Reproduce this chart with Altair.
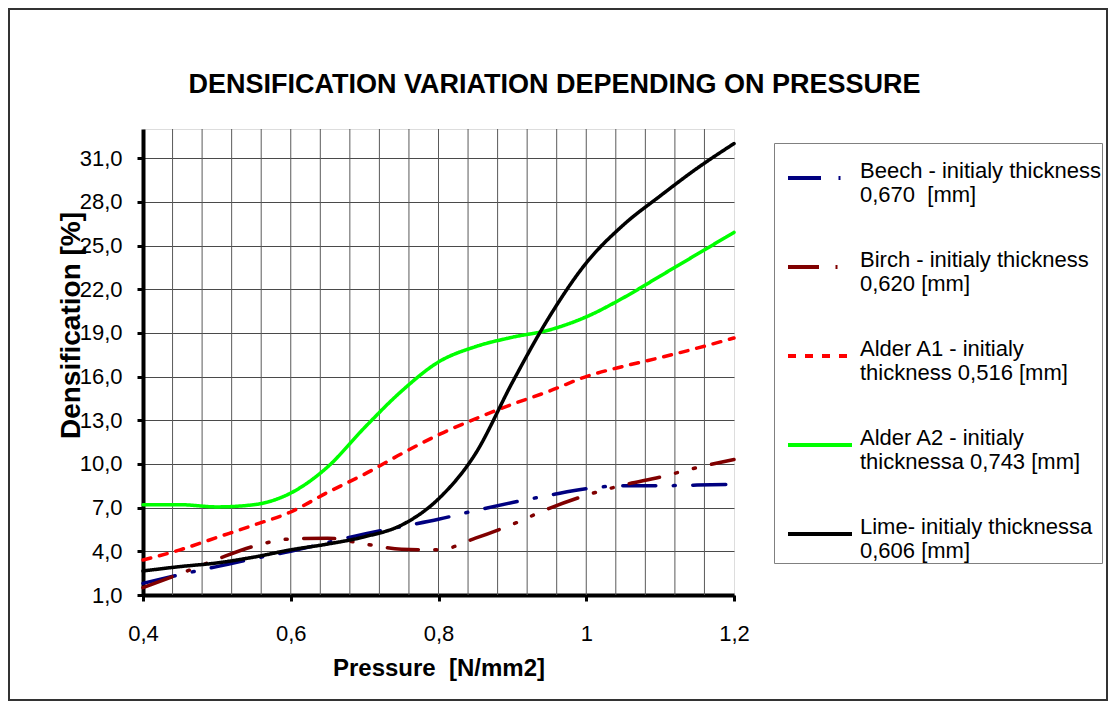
import altair as alt
import pandas as pd

FONT = "Liberation Sans"

# ---------------- data ----------------
pressure = [0.40, 0.45, 0.50, 0.55, 0.60, 0.65, 0.70, 0.75, 0.80,
            0.85, 0.90, 0.95, 1.00, 1.05, 1.10, 1.15, 1.20]
beech    = [1.8, 2.4, 2.95, 3.5, 4.0, 4.6, 5.2, 5.7, 6.2,
            6.8, 7.35, 7.85, 8.3, 8.5, 8.5, 8.55, 8.6]
birch    = [1.5, 2.45, 3.45, 4.35, 4.85, 4.9, 4.5, 4.15, 4.1,
            4.9, 5.85, 6.95, 7.85, 8.55, 9.1, 9.75, 10.3]
alder_a1 = [3.4, 4.1, 4.95, 5.8, 6.7, 8.05, 9.3, 10.7, 12.0,
            13.1, 14.1, 15.0, 16.0, 16.7, 17.3, 17.95, 18.65]
alder_a2 = [7.2, 7.2, 7.05, 7.2, 8.0, 9.8, 12.5, 15.0, 17.0,
            18.05, 18.7, 19.2, 20.1, 21.4, 22.9, 24.4, 25.9]
lime     = [2.65, 2.95, 3.2, 3.6, 4.1, 4.5, 5.0, 5.8, 7.6,
            10.7, 15.6, 20.1, 23.8, 26.4, 28.4, 30.3, 32.0]

series_labels = [
    "Beech - initialy thickness|0,670\u00a0 [mm]",
    "Birch - initialy thickness|0,620 [mm]",
    "Alder A1 - initialy|thickness 0,516 [mm]",
    "Alder A2 - initialy|thicknessa 0,743 [mm]",
    "Lime- initialy thicknessa|0,606 [mm]",
]
series_values = [beech, birch, alder_a1, alder_a2, lime]
series_colors = ["#000080", "#800000", "#FF0000", "#00FF00", "#000000"]
series_dashes = [[33, 17.5, 2, 17.5], [31, 16.5, 2, 16.5, 2, 16.5], [8, 9], [1, 0], [1, 0]]

x_ticks = [0.4, 0.6, 0.8, 1.0, 1.2]
x_grid = [0.44, 0.48, 0.52, 0.56, 0.60, 0.64, 0.68, 0.72, 0.76, 0.80,
          0.84, 0.88, 0.92, 0.96, 1.00, 1.04, 1.08, 1.12, 1.16]
y_ticks = [1, 4, 7, 10, 13, 16, 19, 22, 25, 28, 31]

rows = []
for lab, vals in zip(series_labels, series_values):
    for p, v in zip(pressure, vals):
        rows.append({"series": lab, "pressure": p, "densification": v})
df = pd.DataFrame(rows)

x_scale = alt.Scale(domain=[0.4, 1.2], nice=False, zero=False)
y_scale = alt.Scale(domain=[1, 33], nice=False, zero=False)

x_axis = alt.Axis(
    values=x_ticks, grid=False, labelFlush=False,
    labelExpr="replace(format(datum.value, '.1~f'), '.', ',')",
    labelFont=FONT, labelFontSize=22, labelColor="black",
    labelBaseline="alphabetic", labelPadding=39,
    domainColor="black", domainWidth=4, tickColor="black", tickWidth=3, tickSize=6,
    title="Pressure\u00a0 [N/mm2]", titleFont=FONT, titleFontSize=24, titleFontWeight="bold",
    titleColor="black", titleY=80, titleBaseline="alphabetic",
)

legend = alt.Legend(
    title=None, orient="none", legendX=631, legendY=14, direction="vertical",
    labelExpr="split(datum.label, '|')",
    labelFont=FONT, labelFontSize=22, labelColor="black", labelLimit=400,
    labelBaseline="alphabetic", labelOffset=6,
    symbolType="stroke", symbolSize=4096, symbolStrokeWidth=4, symbolOffset=11,
    strokeColor="#808080", fillColor="white", padding=1, rowPadding=27,
)

frame = alt.Chart(pd.DataFrame({"k": [0]})).mark_rect(
    filled=False, stroke="#333333", strokeWidth=2
).encode(x=alt.value(-134), x2=alt.value(964), y=alt.value(-120), y2=alt.value(571))

vgrid = alt.Chart(pd.DataFrame({"pressure": x_grid})).mark_rule(
    color="#5a5a5a", strokeWidth=1
).encode(x=alt.X("pressure:Q", scale=x_scale, axis=x_axis))

lines = alt.Chart(df).mark_line(
    interpolate="monotone", strokeWidth=3.5, strokeCap="round"
).encode(
    x=alt.X("pressure:Q", scale=x_scale, axis=x_axis),
    y=alt.Y("densification:Q", scale=y_scale, axis=alt.Axis(
        values=y_ticks, grid=True, gridColor="#4a4a4a", gridWidth=1,
        labelExpr="replace(format(datum.value, '.1f'), '.', ',')",
        labelFont=FONT, labelFontSize=22, labelColor="black", labelPadding=15,
        domainColor="black", domainWidth=4, tickColor="black", tickWidth=3, tickSize=6,
        title="Densification [%]", titleFont=FONT, titleFontSize=28, titleFontWeight="bold",
        titleColor="black", titleX=-72, titleY=196, titleBaseline="middle", titleAlign="center",
    )),
    color=alt.Color("series:N", sort=series_labels,
                    scale=alt.Scale(domain=series_labels, range=series_colors), legend=legend),
    strokeDash=alt.StrokeDash("series:N", sort=series_labels,
                              scale=alt.Scale(domain=series_labels, range=series_dashes), legend=legend),
    order=alt.Order("pressure:Q"),
)

chart = alt.layer(frame, vgrid, lines).properties(
    width=591, height=466,
    autosize=alt.AutoSizeParams(type="none"),
    padding={"left": 135, "top": 121, "right": 374, "bottom": 106},
    title=alt.TitleParams(
        text="DENSIFICATION VARIATION DEPENDING ON PRESSURE",
        font=FONT, fontSize=27, fontWeight="bold", color="black",
        anchor="middle", dx=116, offset=-112, baseline="alphabetic",
    ),
).configure_view(
    stroke="#8c8c8c", strokeWidth=2
).configure(background="white")

chart.save("out.html", embed_options={"renderer": "svg", "actions": False})
